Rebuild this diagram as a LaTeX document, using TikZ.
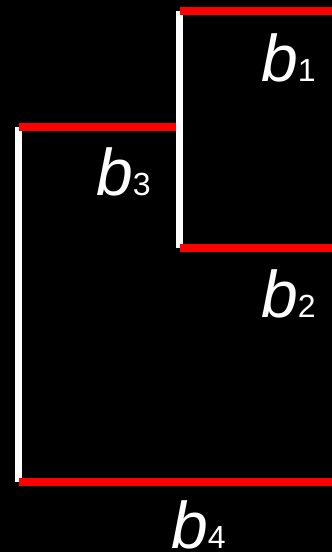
\documentclass[tikz,border=0pt]{standalone}
\usepackage{fontspec}
\setmainfont{Liberation Sans}
\usetikzlibrary{positioning}

\newcommand{\blab}[1]{b{\fontsize{32}{32}\selectfont\upshape #1}}

\begin{document}
\begin{tikzpicture}[x=1pt, y=1pt,
  wall/.style={draw=white, line width=7pt},
  edge/.style={draw=red, line width=8pt},
  blabel/.style={text=white, inner sep=0pt, anchor=base west,
    font=\fontsize{66}{66}\selectfont\itshape}]
% Background
\fill[black] (0,0) rectangle (332,552);
\useasboundingbox (0,0) rectangle (332,552);

% Corner points of the steps
\coordinate (up) at (179.5,541);
\coordinate (upr) at (332,541);
\coordinate (mid) at (179.5,304);
\coordinate (midr) at (332,304);
\coordinate (lft) at (18.5,425);
\coordinate (lftr) at (176,425);
\coordinate (low) at (18.5,70);
\coordinate (lowr) at (332,70);

% White walls
\draw[wall] (up) -- (mid);
\draw[wall] (lft) -- (low);

% Red edges
\draw[edge] (up) -- (upr);
\draw[edge] (mid) -- (midr);
\draw[edge] (lft) -- (lftr);
\draw[edge] (low) -- (lowr);

% Labels
\node[blabel] (b1) at (261,470) {\blab{1}};
\node[blabel] (b2) at (261,234) {\blab{2}};
\node[blabel] (b3) at (96,356) {\blab{3}};
\node[blabel] (b4) at (171,3) {\blab{4}};
\end{tikzpicture}
\end{document}
